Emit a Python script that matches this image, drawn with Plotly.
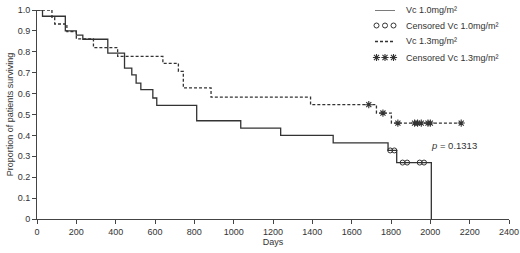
import plotly.graph_objects as go

# ---------------- data ----------------
vc10_days = [0, 28, 144, 200, 233, 360, 445, 482, 504, 528, 589, 609, 812, 1036, 1239, 1506, 1785, 1829, 2005]
vc10_surv = [1.0, 0.97, 0.90, 0.88, 0.86, 0.794, 0.722, 0.69, 0.65, 0.619, 0.579, 0.544, 0.47, 0.435, 0.40, 0.364, 0.328, 0.27, 0.0]

vc10_cens_days = [1796, 1817, 1859, 1882, 1946, 1968]
vc10_cens_surv = [0.328, 0.328, 0.27, 0.27, 0.27, 0.27]

vc13_days = [0, 76, 90, 152, 200, 287, 410, 640, 719, 744, 885, 1391, 1726, 1802, 2157]
vc13_surv = [1.0, 0.965, 0.933, 0.897, 0.862, 0.82, 0.778, 0.745, 0.706, 0.627, 0.583, 0.547, 0.507, 0.459, 0.459]

vc13_cens_days = [1687, 1759, 1835, 1920, 1935, 1954, 1988, 2000, 2157]
vc13_cens_surv = [0.547, 0.507, 0.459, 0.459, 0.459, 0.459, 0.459, 0.459, 0.459]

x_ticks = list(range(0, 2401, 200))
y_ticks = [0, 0.1, 0.2, 0.3, 0.4, 0.5, 0.6, 0.7, 0.8, 0.9, 1.0]
y_tick_labels = ["0", "0.1", "0.2", "0.3", "0.4", "0.5", "0.6", "0.7", "0.8", "0.9", "1.0"]

legend_labels = ["Vc 1.0mg/m²", "Censored Vc 1.0mg/m²", "Vc 1.3mg/m²", "Censored Vc 1.3mg/m²"]
p_text = "<i>p</i> = 0.1313"

# ---------------- styling ----------------
W, H = 520, 253
ML, MR, MT, MB = 37, 11, 10, 34
LINE = "#333333"
TXT = "#333333"
FONT = "Liberation Sans, Arial, sans-serif"

def px2paper(px, py):
    pw = W - ML - MR
    ph = H - MT - MB
    return (px - ML) / pw, (H - MB - py) / ph

fig = go.Figure()

fig.add_trace(go.Scatter(x=vc10_days, y=vc10_surv, mode="lines", line=dict(shape="hv", color=LINE, width=1.3),
                         showlegend=False, cliponaxis=False))
fig.add_trace(go.Scatter(x=vc13_days, y=vc13_surv, mode="lines",
                         line=dict(shape="hv", color=LINE, width=1.3, dash="3px,2px"),
                         showlegend=False, cliponaxis=False))
fig.add_trace(go.Scatter(x=vc10_cens_days, y=vc10_cens_surv, mode="markers",
                         marker=dict(symbol="circle-open", size=5, color=LINE, line=dict(width=1, color=LINE)),
                         showlegend=False, cliponaxis=False))
fig.add_trace(go.Scatter(x=vc13_cens_days, y=vc13_cens_surv, mode="markers",
                         marker=dict(symbol="asterisk-open", size=6, color=LINE, line=dict(width=1.1, color=LINE)),
                         showlegend=False, cliponaxis=False))

# ---------------- custom legend (overlay axes in paper units) ----------------
rows_py = [10, 25.5, 41.5, 57.5]
sym_x0, sym_x1, text_x = 375, 395, 404
sym3 = [376.5, 385, 393.5]

for i, (label, py) in enumerate(zip(legend_labels, rows_py)):
    ax, ay = px2paper(text_x, py)
    fig.add_annotation(x=ax, y=ay, xref="paper", yref="paper", text=label, showarrow=False,
                       xanchor="left", yanchor="middle", font=dict(size=9, color=TXT, family=FONT))

lx0, ly0 = px2paper(sym_x0, rows_py[0])
lx1, _ = px2paper(sym_x1, rows_py[0])
fig.add_trace(go.Scatter(x=[lx0, lx1], y=[ly0, ly0], mode="lines", line=dict(color=LINE, width=1.3),
                         xaxis="x2", yaxis="y2", showlegend=False, hoverinfo="skip"))
_, ly2 = px2paper(sym_x0, rows_py[2])
fig.add_trace(go.Scatter(x=[lx0, lx1], y=[ly2, ly2], mode="lines", line=dict(color=LINE, width=1.3, dash="3px,2px"),
                         xaxis="x2", yaxis="y2", showlegend=False, hoverinfo="skip"))
_, ly1 = px2paper(sym_x0, rows_py[1])
_, ly3 = px2paper(sym_x0, rows_py[3])
sx = [px2paper(s, 0)[0] for s in sym3]
fig.add_trace(go.Scatter(x=sx, y=[ly1] * 3, mode="markers",
                         marker=dict(symbol="circle-open", size=5, color=LINE, line=dict(width=1, color=LINE)),
                         xaxis="x2", yaxis="y2", showlegend=False, hoverinfo="skip"))
fig.add_trace(go.Scatter(x=sx, y=[ly3] * 3, mode="markers",
                         marker=dict(symbol="asterisk-open", size=6, color=LINE, line=dict(width=1.1, color=LINE)),
                         xaxis="x2", yaxis="y2", showlegend=False, hoverinfo="skip"))

# p-value text
fig.add_annotation(x=1995, y=0.35, xref="x", yref="y", text=p_text, showarrow=False,
                   xanchor="left", yanchor="middle", font=dict(size=9.5, color=TXT, family=FONT))

axis_common = dict(showgrid=False, zeroline=False, showline=True, linecolor="#444444", linewidth=1,
                   ticks="outside", ticklen=4, tickwidth=1, tickcolor="#444444", automargin=False,
                   tickfont=dict(size=9, color=TXT, family=FONT))

fig.update_layout(
    width=W, height=H,
    margin=dict(l=ML, r=MR, t=MT, b=MB, pad=0),
    paper_bgcolor="white", plot_bgcolor="white",
    showlegend=False,
    xaxis=dict(range=[0, 2400], tickvals=x_ticks, ticktext=[str(v) for v in x_ticks],
               title=dict(text="Days", font=dict(size=9, color=TXT, family=FONT), standoff=2),
               **axis_common),
    yaxis=dict(range=[0, 1.0], tickvals=y_ticks, ticktext=y_tick_labels,
               title=dict(text="Proportion of patients surviving", font=dict(size=9, color=TXT, family=FONT), standoff=2),
               **axis_common),
    xaxis2=dict(overlaying="x", range=[0, 1], visible=False, fixedrange=True),
    yaxis2=dict(overlaying="y", range=[0, 1], visible=False, fixedrange=True),
)

fig.write_html("out.html", config={"displayModeBar": False},
               post_script="document.body.style.margin='0px';document.body.style.overflow='hidden';")
